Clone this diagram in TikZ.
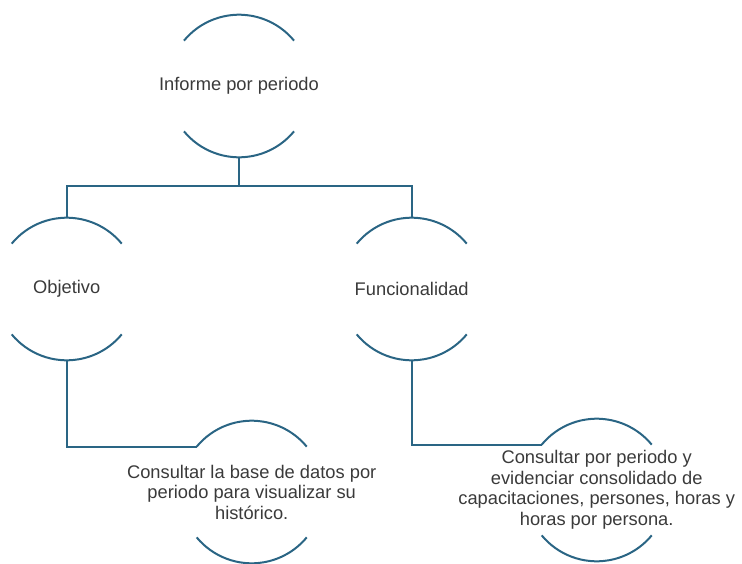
\documentclass[tikz,border=0pt]{standalone}
\usepackage{fontspec}
\setmainfont{Liberation Sans}
\definecolor{arcblue}{HTML}{2A6584}
\definecolor{txtgray}{HTML}{3A3A3A}
\newcommand\arcpair[1]{%
  \draw[arcline] ([shift={(140.5:71.3)}]#1.center) arc[start angle=140.5,end angle=39.5,radius=71.3];
  \draw[arcline] ([shift={(219.5:71.3)}]#1.center) arc[start angle=219.5,end angle=320.5,radius=71.3];
}
\begin{document}
\begin{tikzpicture}[x=1pt,y=1pt,
  arcline/.style={draw=arcblue,line width=2pt},
  conn/.style={draw=arcblue,line width=2pt},
  lbl/.style={inner sep=0pt,text=txtgray,align=center,font=\fontsize{18.3}{20.5}\selectfont}]
\useasboundingbox (0,0) rectangle (742,-563);
\node[lbl] (top) at (239,-86) {Informe por periodo};
\node[lbl] (obj) at (66.7,-289) {Objetivo};
\node[lbl] (fun) at (411.7,-289) {Funcionalidad};
\node[lbl] (l1) at (251.7,-492) {Consultar la base de datos por\\periodo para visualizar su\\histórico.};
\node[lbl] (l2) at (596.7,-490) {Consultar por periodo y\\evidenciar consolidado de\\capacitaciones, persones, horas y\\horas por persona.};
\arcpair{top}
\arcpair{obj}
\arcpair{fun}
\arcpair{l1}
\arcpair{l2}
\draw[conn] ([yshift=-71.3]top.center) -- ++(0,-28.7) -| ([yshift=71.3]obj.center);
\draw[conn] ([yshift=-71.3]top.center) -- ++(0,-28.7) -| ([yshift=71.3]fun.center);
\draw[conn] ([yshift=-71.3]obj.center) |- ([shift={(140.5:71.3)}]l1.center);
\draw[conn] ([yshift=-71.3]fun.center) |- ([shift={(140.5:71.3)}]l2.center);
\end{tikzpicture}
\end{document}
